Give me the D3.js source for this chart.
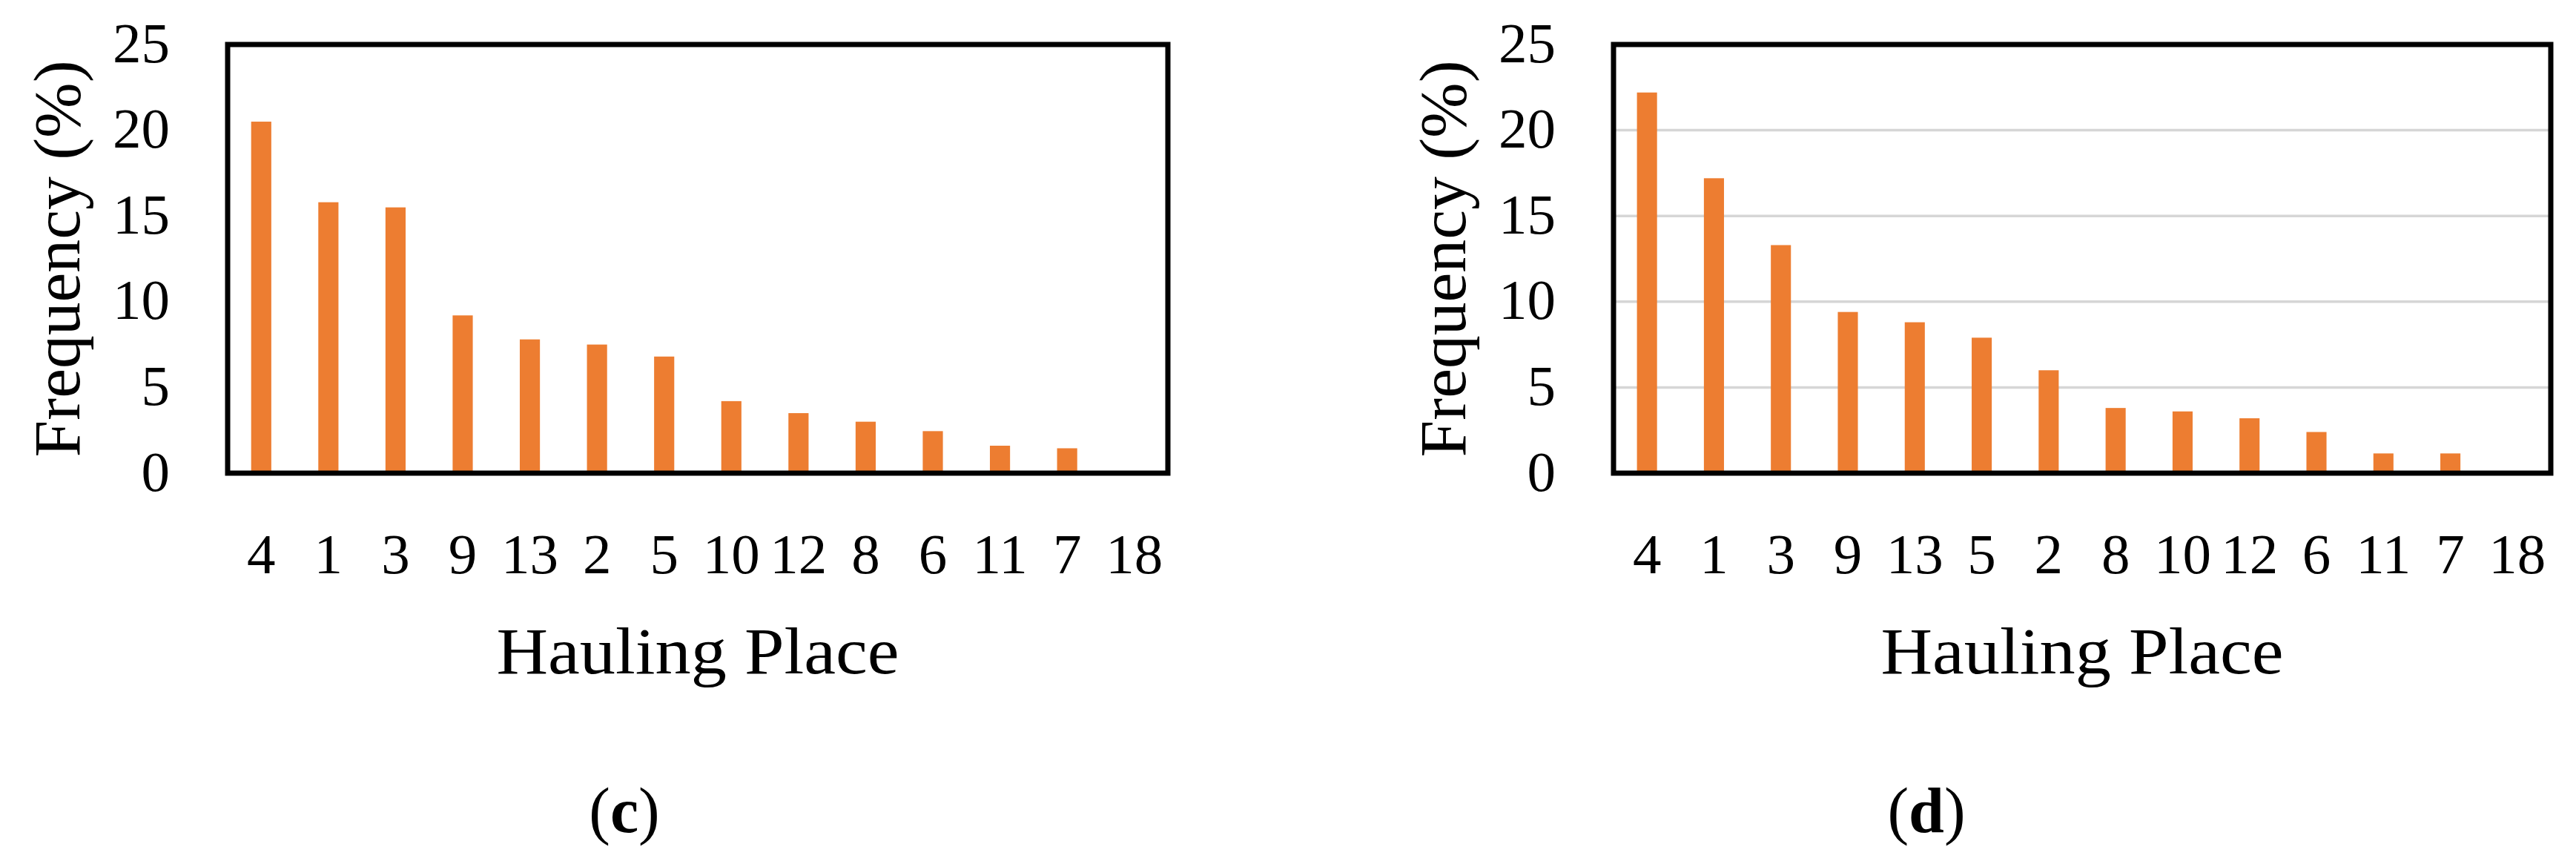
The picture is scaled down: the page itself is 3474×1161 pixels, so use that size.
<!DOCTYPE html>
<html>
<head>
<meta charset="utf-8">
<script src="https://cdn.jsdelivr.net/npm/d3@7"></script>
<style>
  html, body { margin: 0; padding: 0; background: #ffffff; }
  svg { display: block; }
</style>
</head>
<body>
<svg id="chart" width="3474" height="1161"></svg>
<script>
// ---- data ----
const categoriesC = ["4", "1", "3", "9", "13", "2", "5", "10", "12", "8", "6", "11", "7", "18"];
const valuesC     = [20.5, 15.8, 15.5, 9.2, 7.8, 7.5, 6.8, 4.2, 3.5, 3.0, 2.45, 1.6, 1.45, 0];

const categoriesD = ["4", "1", "3", "9", "13", "5", "2", "8", "10", "12", "6", "11", "7", "18"];
const valuesD     = [22.2, 17.2, 13.3, 9.4, 8.8, 7.9, 6.0, 3.8, 3.6, 3.2, 2.4, 1.15, 1.15, 0];

const yTicks = [0, 5, 10, 15, 20, 25];
const gridTicksD = [5, 10, 15, 20];
const xTitle = "Hauling Place";
const yTitle = "Frequency (%)";
const panelLabels = ["c", "d"];

// ---- style ----
const FONT = "'Palatino Linotype', 'Book Antiqua', Palatino, 'Liberation Serif', serif";
const BAR = "#ED7D31";

const svg = d3.select("#chart");

function panel(opts) {
  const { left, right, top, bottom, cats, vals, grid, label, labelX } = opts;
  const g = svg.append("g");

  const x = d3.scaleBand().domain(cats).range([left, right])
    .paddingInner(0.7).paddingOuter(0.35);
  const y = d3.scaleLinear().domain([0, 25]).range([bottom, top]);

  // gridlines
  g.append("g").selectAll("line").data(grid).join("line")
    .attr("x1", left).attr("x2", right)
    .attr("y1", d => y(d)).attr("y2", d => y(d))
    .attr("stroke", "#d6d6d6").attr("stroke-width", 3.5);

  // bars
  g.append("g").selectAll("rect").data(vals).join("rect")
    .attr("x", (d, i) => x(cats[i]))
    .attr("width", x.bandwidth())
    .attr("y", d => y(d))
    .attr("height", d => y(0) - y(d))
    .attr("fill", BAR);

  // frame
  g.append("rect")
    .attr("x", left).attr("y", top)
    .attr("width", right - left).attr("height", bottom - top)
    .attr("fill", "none").attr("stroke", "#000").attr("stroke-width", 7);

  // y axis
  const ya = g.append("g").attr("transform", `translate(${left},0)`)
    .call(d3.axisLeft(y).tickValues(yTicks).tickSize(0).tickPadding(78));
  ya.select(".domain").remove();
  ya.selectAll("text")
    .attr("font-family", FONT).attr("font-size", 77).attr("fill", "#000")
    .attr("dy", "0.3em");

  // x axis
  const xa = g.append("g").attr("transform", `translate(0,${bottom})`)
    .call(d3.axisBottom(x).tickSize(0));
  xa.select(".domain").remove();
  xa.selectAll("text")
    .attr("font-family", FONT).attr("font-size", 77).attr("fill", "#000")
    .attr("y", 135).attr("dy", 0);

  // y title
  const cy = (top + bottom) / 2;
  g.append("text")
    .attr("transform", `translate(${left - 200},${cy}) rotate(-90)`)
    .attr("text-anchor", "middle")
    .attr("font-family", FONT).attr("font-size", 88).attr("fill", "#000")
    .attr("textLength", 535).attr("lengthAdjust", "spacingAndGlyphs")
    .text(yTitle);

  // x title
  g.append("text")
    .attr("x", (left + right) / 2).attr("y", 908)
    .attr("text-anchor", "middle")
    .attr("font-family", FONT).attr("font-size", 88).attr("fill", "#000")
    .attr("textLength", 543).attr("lengthAdjust", "spacingAndGlyphs")
    .text(xTitle);

  // panel label
  const t = g.append("text")
    .attr("x", labelX).attr("y", 1122)
    .attr("text-anchor", "middle")
    .attr("font-family", FONT).attr("font-size", 86).attr("fill", "#000");
  t.append("tspan").text("(");
  t.append("tspan").attr("font-weight", "bold").text(label);
  t.append("tspan").text(")");
}

panel({ left: 307, right: 1575, top: 60, bottom: 638,
        cats: categoriesC, vals: valuesC, grid: [], label: panelLabels[0], labelX: 842 });
panel({ left: 2176, right: 3440, top: 60, bottom: 638,
        cats: categoriesD, vals: valuesD, grid: gridTicksD, label: panelLabels[1], labelX: 2598 });
</script>
</body>
</html>
